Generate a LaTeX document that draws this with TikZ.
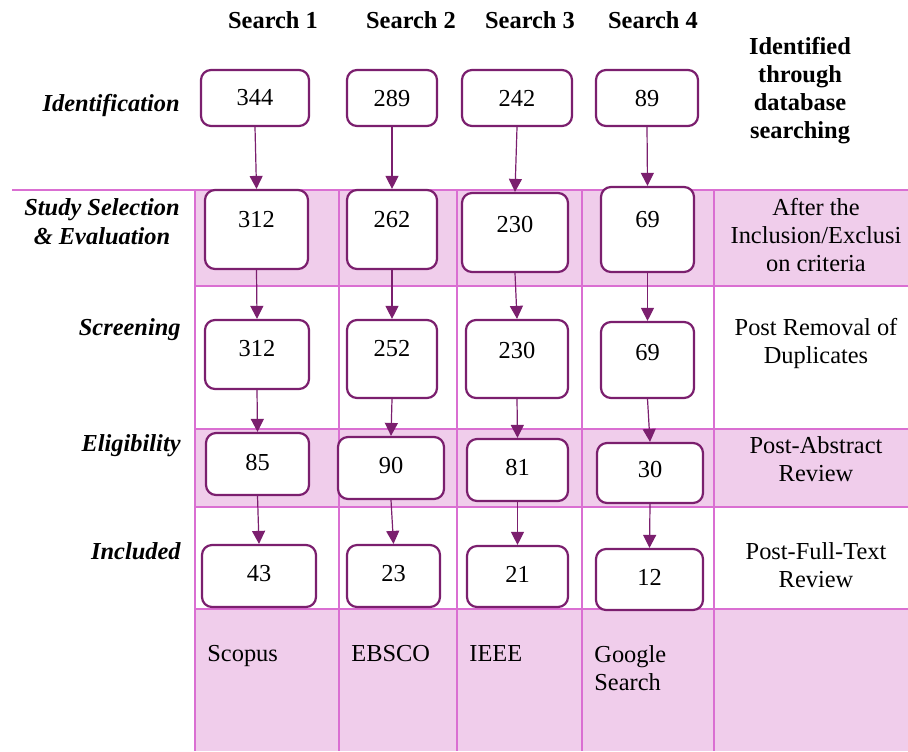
\documentclass[tikz,border=0pt]{standalone}
\usepackage{fontspec}
\setmainfont{Liberation Serif}
\usetikzlibrary{arrows.meta,fit}
\definecolor{gridc}{HTML}{DA6FD2}
\definecolor{fillc}{HTML}{F0CDEB}
\definecolor{boxc}{HTML}{7B1F6E}
\tikzset{
  box/.style={draw=boxc, line width=1.1pt, rounded corners=5pt, fill=white, inner sep=0pt},
  num/.style={inner sep=0pt, font=\fontsize{12.2}{14}\selectfont},
  arr/.style={draw=boxc, line width=0.6pt, -{Triangle[width=6.5pt,length=6.5pt]}},
  gridline/.style={draw=gridc, line width=1pt},
  head/.style={inner sep=0pt, font=\fontsize{12.2}{14}\selectfont\bfseries, align=center},
  stage/.style={inner sep=0pt, font=\fontsize{12.2}{14.5}\selectfont\bfseries\itshape, align=center},
  note/.style={inner sep=0pt, font=\fontsize{12.2}{14}\selectfont, align=center},
  src/.style={inner sep=0pt, font=\fontsize{12.2}{14}\selectfont, align=left, anchor=north west},
}
\newcommand\bx[7]{%
  \node[box, fit={(#2,#3) (#4,#5)}] (#1) {};
  \node[num] (#1t) at ({(#2+#4)/2},#6) {#7};
}
\begin{document}
\begin{tikzpicture}[x=0.5pt,y=-0.5pt]
\useasboundingbox (0,0) rectangle (908,751);
% shaded rows
\fill[fillc] (195,190) rectangle (908,286);
\fill[fillc] (195,429) rectangle (908,507);
\fill[fillc] (195,609) rectangle (908,751);
% grid
\draw[gridline] (12,190) -- (908,190);
\foreach \yy in {286,429,507,609} \draw[gridline] (195,\yy) -- (908,\yy);
\foreach \xx in {195,339,457,582,714} \draw[gridline] (\xx,190) -- (\xx,751);
% headers
\node[head] (h1) at (273,20) {Search 1};
\node[head] (h2) at (411,20) {Search 2};
\node[head] (h3) at (530,20) {Search 3};
\node[head] (h4) at (653,20) {Search 4};
\node[head] (h5) at (800,90.5) {Identified\\through\\database\\searching};
% stage labels
\node[stage, anchor=east] (s1) at (180,105) {Identification};
\node[stage] (s2) at (102,221.5) {Study Selection\\\& Evaluation};
\node[stage, anchor=east] (s3) at (181,330) {Screening};
\node[stage, anchor=east] (s4) at (181,446) {Eligibility};
\node[stage, anchor=east] (s5) at (181,551) {Included};
% right notes
\node[note] (n1) at (816,235) {After the\\Inclusion/Exclusi\\on criteria};
\node[note] (n2) at (816,343) {Post Removal of\\Duplicates};
\node[note] (n3) at (816,459.5) {Post-Abstract\\Review};
\node[note] (n4) at (816,565.5) {Post-Full-Text\\Review};
% sources
\node[src] (r1) at (207,645) {Scopus};
\node[src] (r2) at (351,645) {EBSCO};
\node[src] (r3) at (469,645) {IEEE};
\node[src] (r4) at (594,645) {Google\\Search};
% boxes
\bx{b01}{201}{70}{309}{126}{98}{344}
\bx{b02}{347}{70}{437}{126}{98}{289}
\bx{b03}{462}{70}{572}{126}{98}{242}
\bx{b04}{596}{70}{698}{126}{98}{89}
\bx{b11}{205}{190}{308}{269}{220}{312}
\bx{b12}{347}{190}{437}{269}{220}{262}
\bx{b13}{462}{193}{568}{272}{224}{230}
\bx{b14}{601}{187}{694}{272}{220}{69}
\bx{b21}{205}{320}{309}{389}{349}{312}
\bx{b22}{347}{320}{437}{398}{349}{252}
\bx{b23}{466}{320}{568}{398}{350}{230}
\bx{b24}{601}{322}{694}{398}{353}{69}
\bx{b31}{206}{433}{309}{495}{462}{85}
\bx{b32}{338}{437}{444}{499}{465}{90}
\bx{b33}{467}{439}{568}{501}{467}{81}
\bx{b34}{597}{443}{703}{503}{469}{30}
\bx{b41}{202}{545}{316}{607}{574}{43}
\bx{b42}{347}{545}{440}{607}{574}{23}
\bx{b43}{467}{546}{568}{607}{574}{21}
\bx{b44}{596}{549}{703}{610}{577}{12}
% arrows
\foreach \c in {1,2,3,4}{
  \draw[arr] (b0\c.south) -- (b1\c.north);
  \draw[arr] (b1\c.south) -- (b2\c.north);
  \draw[arr] (b2\c.south) -- (b3\c.north);
  \draw[arr] (b3\c.south) -- (b4\c.north);
}
\end{tikzpicture}
\end{document}
